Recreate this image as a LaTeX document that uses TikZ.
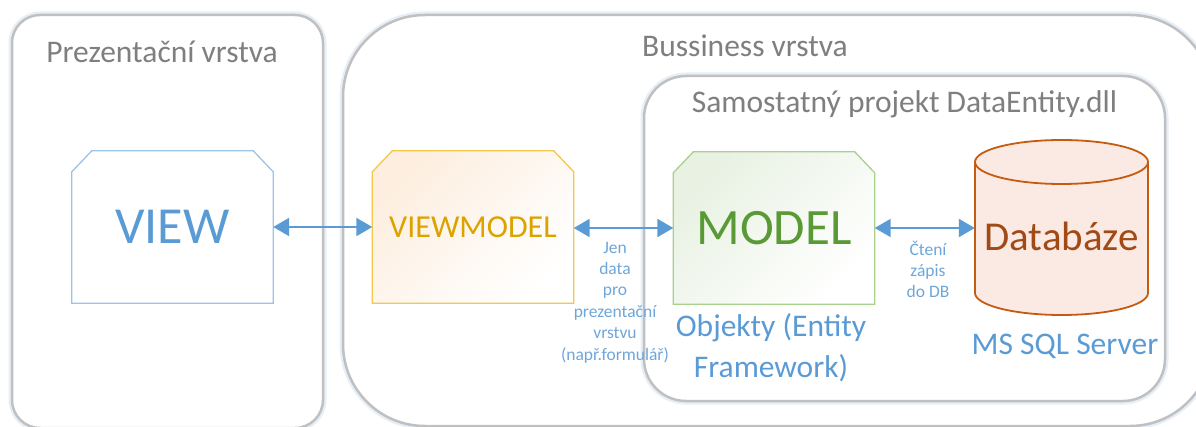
\documentclass[tikz,border=0pt]{standalone}
\usepackage{fontspec}
\setmainfont{Carlito}
\usetikzlibrary{arrows.meta}
\pgfdeclarelayer{background}
\pgfsetlayers{background,main}

\definecolor{panelgray}{HTML}{C0C0C0}
\definecolor{panelglow}{HTML}{E6EEF7}
\definecolor{titlegray}{HTML}{7F7F7F}
\definecolor{linkblue}{HTML}{5B9BD5}
\definecolor{noteblue}{HTML}{6FA6DA}
\definecolor{viewline}{HTML}{9DC3E6}
\definecolor{vmline}{HTML}{F2C94C}
\definecolor{vmtext}{HTML}{DCA300}
\definecolor{vmfill}{HTML}{FDEEDF}
\definecolor{mline}{HTML}{A9D18E}
\definecolor{mtext}{HTML}{5A9A36}
\definecolor{mfill}{HTML}{E8F1E2}
\definecolor{dbline}{HTML}{C55A11}
\definecolor{dbfill}{HTML}{FBEAE3}
\definecolor{dbtext}{HTML}{A14A16}

\newcommand\fsz[2]{\fontsize{#1}{#2}\selectfont}

\tikzset{
  panel/.style={draw=panelgray, line width=2.5pt, fill=white,
    preaction={draw=panelglow, line width=7pt}},
  title/.style={text=titlegray, font=\fsz{31.5pt}{38pt}, anchor=base, inner sep=0pt},
  tier/.style={minimum width=201pt, minimum height=152pt, inner sep=0pt},
  caption/.style={text=linkblue, font=\fsz{31.5pt}{40pt}, align=center, anchor=base, inner sep=0pt},
  note/.style={text=noteblue, font=\fsz{17.5pt}{21.4pt}, align=center, anchor=base, inner sep=0pt},
  link/.style={draw=linkblue, line width=2pt,
    {Triangle[length=16pt,width=18pt]}-{Triangle[length=16pt,width=18pt]}},
}

% outline of a box with both upper corners cut off
\newcommand\chamferbox[3]{%
  \path[draw=#2, line width=1.3pt, #3]
    (#1.south west) -- ([yshift=-21pt]#1.north west) -- ([xshift=20pt]#1.north west)
    -- ([xshift=-20pt]#1.north east) -- ([yshift=-21pt]#1.north east)
    -- (#1.south east) -- cycle;}

\begin{document}
\begin{tikzpicture}[x=1pt, y=-1pt]
\useasboundingbox (0,0) rectangle (1196,427);
\clip (0,0) rectangle (1196,427);

% tiers (text only; their outlines go on the background layer)
\node[tier, text=linkblue, font=\fsz{52pt}{60pt}] (view) at (172.5,227) {VIEW};
\node[tier, text=vmtext, font=\fsz{32pt}{38pt}] (vm) at (473,227) {VIEWMODEL};
\node[tier, text=mtext, font=\fsz{51pt}{60pt}] (model) at (774,228) {MODEL};
\node[minimum width=173pt, minimum height=175pt, inner sep=0pt] (db) at (1061.5,227.5) {};

\begin{pgfonlayer}{background}
  % layer containers
  \draw[panel, rounded corners=28pt] (12,15) rectangle (323,428);
  \draw[panel, rounded corners=82pt] (343,15) rectangle (1212,426);
  \draw[panel, rounded corners=42pt] (644,76) rectangle (1165,401);
  % tier outlines
  \chamferbox{view}{viewline}{fill=white}
  \chamferbox{vm}{vmline}{top color=vmfill, bottom color=white, shading angle=45}
  \chamferbox{model}{mline}{top color=mfill, bottom color=white, shading angle=45}
\end{pgfonlayer}

\node[title] (tPres) at (162,63) {Prezentační vrstva};
\node[title] (tBus) at (745,57) {Bussiness vrstva};
\node[title] (tProj) at (904.5,113) {Samostatný projekt DataEntity.dll};

% database cylinder
\filldraw[fill=dbfill, draw=dbline, line width=1.8pt]
  (975,162) -- (975,293) arc[start angle=180, end angle=0, x radius=86.5, y radius=22]
  -- (1148,162) arc[start angle=0, end angle=-180, x radius=86.5, y radius=22] -- cycle;
\draw[dbline, line width=1.8pt]
  (975,162) arc[start angle=180, end angle=0, x radius=86.5, y radius=22];
\node[text=dbtext, font=\fsz{41pt}{48pt}, anchor=base, inner sep=0pt] (dbname) at (1061.5,251) {Databáze};

% connectors
\draw[link] (view.east) -- (vm.west);
\draw[link] (vm.east |- model.west) -- (model.west);
\draw[link] (model.east) -- (db.west |- model.east);

% notes and captions (base anchor = last line)
\node[note] (n1) at (615,360) {Jen\\data\\pro\\prezentační\\vrstvu\\(např.formulář)};
\node[note] (n2) at (928,298) {Čtení\\zápis\\do DB};
\node[caption] (cap1) at (771,377) {Objekty (Entity\\Framework)};
\node[caption] (cap2) at (1065,355) {MS SQL Server};
\end{tikzpicture}
\end{document}
